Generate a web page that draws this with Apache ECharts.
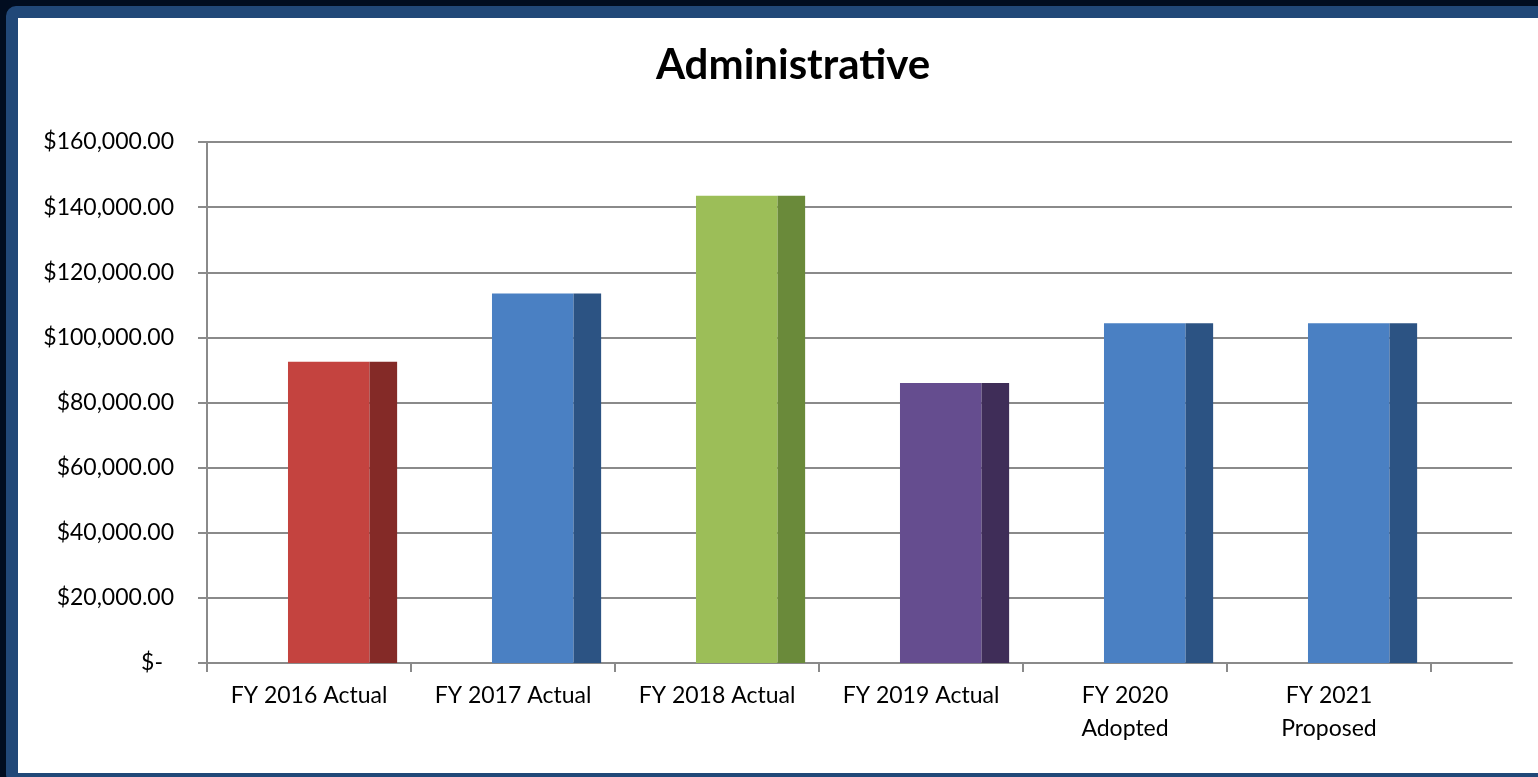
<!DOCTYPE html>
<html>
<head>
<meta charset="utf-8">
<script src="https://cdn.jsdelivr.net/npm/echarts@6/dist/echarts.min.js"></script>
<style>
  html, body { margin: 0; padding: 0; width: 1538px; height: 777px; overflow: hidden; background: #010d20; }
  #frame {
    position: absolute; left: 6px; top: 6px; width: 1560px; height: 755px;
    border: 12px solid #214878; border-radius: 10px; background: #ffffff;
  }
  #chart { position: absolute; left: 0; top: 0; width: 1538px; height: 777px; }
</style>
</head>
<body>
<div id="frame"></div>
<div id="chart"></div>
<script>
// Administrative budget by fiscal year
const categories = ['FY 2016 Actual', 'FY 2017 Actual', 'FY 2018 Actual', 'FY 2019 Actual', 'FY 2020\nAdopted', 'FY 2021\nProposed'];
const amounts = [92500, 113500, 143500, 86000, 104300, 104300];
const frontColors = ['#c4433f', '#4a80c3', '#9cbe58', '#654d8f', '#4a80c3', '#4a80c3'];
const sideColors = ['#842a27', '#2c5383', '#6a8a3a', '#3f2d58', '#2c5383', '#2c5383'];
const yTicks = [0, 20000, 40000, 60000, 80000, 100000, 120000, 140000, 160000];

const FONT = 'Lato, "Open Sans", sans-serif';

function money(v) {
  if (v === 0) return '{z|$-}';
  return '$' + v.toLocaleString('en-US', { minimumFractionDigits: 2, maximumFractionDigits: 2 });
}

const chart = echarts.init(document.getElementById('chart'), null, { renderer: 'canvas' });

chart.setOption({
  animation: false,
  title: {
    text: 'Administrative',
    left: 788, top: 39, textAlign: 'center',
    textStyle: { fontFamily: FONT, fontWeight: 'bold', fontSize: 42, color: '#000' }
  },
  grid: [
    { left: 207, right: 26, top: 142, bottom: 114 },
    { left: 207, right: 107, top: 142, bottom: 114 }
  ],
  xAxis: [
    {
      gridIndex: 0, type: 'value', min: 0, max: 1,
      axisLine: { show: true, lineStyle: { color: '#8a8a8a', width: 2 } },
      axisTick: { show: false }, axisLabel: { show: false }, splitLine: { show: false }
    },
    {
      gridIndex: 1, type: 'category', data: categories, boundaryGap: true,
      axisLine: { show: true, lineStyle: { color: '#8a8a8a', width: 2 } },
      axisTick: { show: true, length: 9, lineStyle: { color: '#8a8a8a', width: 2 } },
      axisLabel: { margin: 16, fontFamily: FONT, fontSize: 23, color: '#000', lineHeight: 33 },
      splitLine: { show: false }
    }
  ],
  yAxis: [
    {
      gridIndex: 0, type: 'value', min: yTicks[0], max: yTicks[yTicks.length - 1], interval: 20000,
      axisLine: { show: true, lineStyle: { color: '#8a8a8a', width: 2 } },
      axisTick: { show: true, length: 9, lineStyle: { color: '#8a8a8a', width: 2 } },
      splitLine: { show: true, lineStyle: { color: '#8a8a8a', width: 2 } },
      axisLabel: {
        margin: 33, fontFamily: FONT, fontSize: 23, color: '#000',
        formatter: money,
        rich: { z: { fontFamily: FONT, fontSize: 23, color: '#000', padding: [0, 11, 0, 0] } }
      }
    },
    {
      gridIndex: 1, type: 'value', min: yTicks[0], max: yTicks[yTicks.length - 1], show: false
    }
  ],
  series: [{
    type: 'custom',
    xAxisIndex: 1, yAxisIndex: 1,
    data: amounts.map((v, i) => [i, v]),
    renderItem: function (params, api) {
      const i = api.value(0);
      const base = api.coord([i, 0]);
      const top = api.coord([i, api.value(1)]);
      const band = api.size([1, 0])[0];
      const left = base[0] - band / 2 + band * 0.397;
      const frontW = band * 0.40;
      const sideW = band * 0.135;
      const h = base[1] - top[1];
      return {
        type: 'group',
        children: [
          { type: 'rect', shape: { x: left, y: top[1], width: frontW, height: h },
            style: { fill: frontColors[i] } },
          { type: 'rect', shape: { x: left + frontW, y: top[1], width: sideW, height: h },
            style: { fill: sideColors[i] } }
        ]
      };
    }
  }]
});
</script>
</body>
</html>
